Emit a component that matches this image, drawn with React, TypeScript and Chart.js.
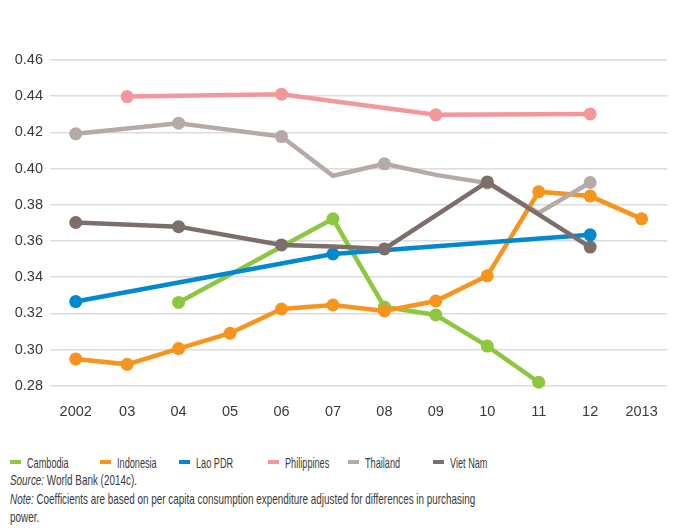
import React, { useEffect, useRef } from "react";
import { Chart, registerables } from "chart.js";

Chart.register(...registerables);

const years = ["2002", "03", "04", "05", "06", "07", "08", "09", "10", "11", "12", "2013"];
const yTicks = [0.28, 0.3, 0.32, 0.34, 0.36, 0.38, 0.4, 0.42, 0.44, 0.46];

const cambodia = [null, null, 0.326, null, null, 0.3722, 0.3235, 0.3191, 0.3019, 0.2819, null, null];
const indonesia = [0.2948, 0.2918, 0.3005, 0.309, 0.3224, 0.3246, 0.3213, 0.3268, 0.3407, 0.3872, 0.3848, 0.3722];
const laoPdr = [0.3265, null, null, null, null, 0.3528, null, null, null, null, 0.3634, null];
const philippines = [null, 0.4398, null, null, 0.4411, null, null, 0.4297, null, null, 0.4302, null];
const thailand = [0.4192, null, 0.4251, null, 0.4177, 0.396, 0.4026, 0.3965, 0.392, 0.3755, 0.3923, null];
const vietNam = [0.3702, null, 0.3679, null, 0.3578, 0.3569, 0.3556, null, 0.3926, null, 0.3566, null];

// which points carry a marker (1) and which are plain line vertices (0)
const thailandMarkers = [1, 0, 1, 0, 1, 0, 1, 0, 1, 0, 1, 0];
const vietNamMarkers = [1, 0, 1, 0, 1, 0, 1, 0, 1, 0, 1, 0];

const seriesNames = ["Cambodia", "Indonesia", "Lao PDR", "Philippines", "Thailand", "Viet Nam"];
const seriesColors = ["#8DC63F", "#F7941D", "#0089CF", "#F4979C", "#B6AAA6", "#7C6E6A"];
const legendX = [10, 100, 179, 268, 348, 433];

const FONT = "'Liberation Sans', Arial, sans-serif";
const TEXT = "#3a3a3a";
const R = 6.5;

export default function App() {
  const ref = useRef<HTMLCanvasElement | null>(null);

  useEffect(() => {
    const all = [cambodia, indonesia, laoPdr, philippines, thailand, vietNam];
    const markers: (number[] | null)[] = [null, null, null, null, thailandMarkers, vietNamMarkers];
    const datasets = all.map((d, i) => ({
      label: seriesNames[i],
      data: d,
      borderColor: seriesColors[i],
      backgroundColor: seriesColors[i],
      borderWidth: 4.5,
      pointRadius: markers[i] ? (markers[i] as number[]).map((m) => (m ? R : 0)) : R,
      pointHoverRadius: R,
      pointBorderWidth: 0,
      spanGaps: true,
      tension: 0,
      clip: false as any,
      order: all.length - i,
    }));

    const chart = new Chart(ref.current as HTMLCanvasElement, {
      type: "line",
      data: { labels: years, datasets: datasets as any },
      options: {
        animation: false,
        responsive: false,
        maintainAspectRatio: false,
        layout: { padding: { top: 60, right: 5, bottom: 0, left: 0 } },
        plugins: { legend: { display: false }, tooltip: { enabled: false } },
        scales: {
          x: {
            type: "category",
            offset: true,
            grid: { display: false, drawTicks: false },
            border: { display: false },
            ticks: { color: TEXT, font: { family: FONT, size: 14.5 }, padding: 18, maxRotation: 0, autoSkip: false },
            afterFit: (s: any) => { s.height = 44.3; },
          },
          y: {
            min: yTicks[0],
            max: yTicks[yTicks.length - 1],
            afterBuildTicks: (s: any) => { s.ticks = yTicks.map((v) => ({ value: v })); },
            grid: { color: "#DCDCDC", lineWidth: 1.5, drawTicks: false },
            border: { display: false },
            ticks: {
              color: TEXT,
              font: { family: FONT, size: 14.5 },
              padding: 7,
              callback: (v: any) => Number(v).toFixed(2),
            },
            afterFit: (s: any) => { s.width = 50; },
          },
        },
      },
    });
    return () => chart.destroy();
  }, []);

  return (
    <div style={{ position: "fixed", left: 0, top: 0, width: 676, height: 528, background: "#fff", fontFamily: FONT, color: TEXT }}>
      <canvas ref={ref} width={676} height={430} style={{ position: "absolute", left: 0, top: 0, width: 676, height: 430 }} />
      {seriesNames.map((n, i) => (
        <div key={n} style={{ position: "absolute", left: legendX[i], top: 453, height: 18, display: "flex", alignItems: "center", fontSize: 15, whiteSpace: "nowrap" }}>
          <span style={{ display: "inline-block", width: 11, height: 3.5, background: seriesColors[i], marginRight: 6 }} />
          <span style={{ display: "inline-block", transform: "scaleX(0.61)", transformOrigin: "left center" }}>{n}</span>
        </div>
      ))}
      <div style={{ position: "absolute", left: 10, top: 471, width: 730, fontSize: 15, lineHeight: "18.5px", transform: "scaleX(0.66)", transformOrigin: "left top" }}>
        <div><i>Source:</i> World Bank (2014c).</div>
        <div><i>Note:</i> Coefficients are based on per capita consumption expenditure adjusted for differences in purchasing power.</div>
      </div>
    </div>
  );
}
